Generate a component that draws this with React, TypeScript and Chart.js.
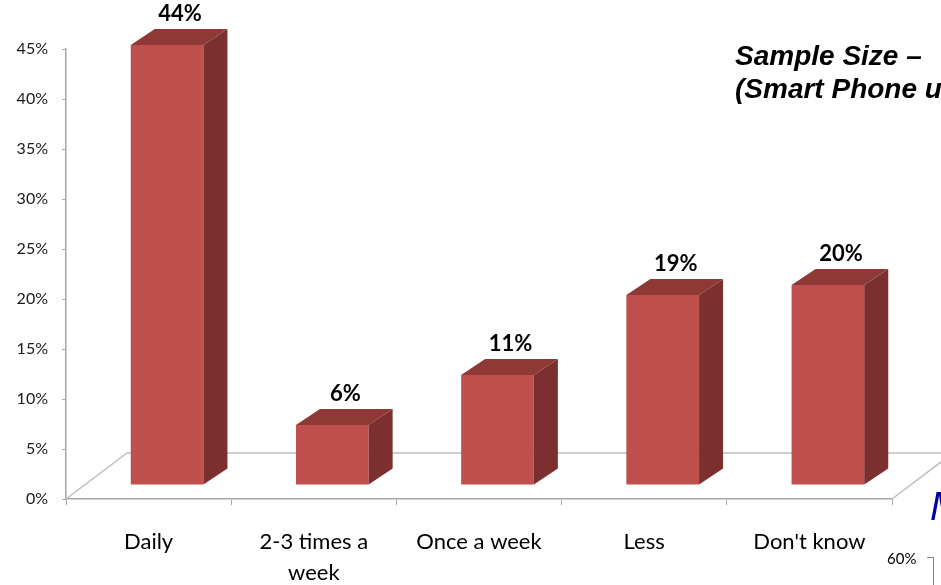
import { useEffect, useRef } from 'react';
import { Chart, registerables } from 'chart.js';

Chart.register(...registerables);

// Survey answers: how often the phone is used
const categories: (string | string[])[] = ['Daily', ['2-3 times a', 'week'], 'Once a week', 'Less', "Don't know"];
const shares = [44, 6, 11, 19, 20];
const yMax = 45;
const yStep = 5;

// 3D look: floor depth, where the bars sit inside it, and the bars' own depth
const FLOOR_DX = 61;
const FLOOR_DY = 46;
const SHIFT_X = 18.5;
const SHIFT_Y = 14;
const BAR_DX = 24;
const BAR_DY = 16;

const FRONT = '#C0504D';
const SIDE = '#7B2F2E';
const TOP = '#8F3936';
const AXIS = '#A6A6A6';
const FLOOR = '#BDBDBD';

const box3d = {
  id: 'box3d',
  beforeDatasetsDraw(chart: any) {
    const { ctx, chartArea } = chart;
    const { left, right, bottom } = chartArea;
    ctx.save();
    ctx.strokeStyle = FLOOR;
    ctx.lineWidth = 1.5;
    ctx.beginPath();
    ctx.moveTo(left, bottom);
    ctx.lineTo(left + FLOOR_DX, bottom - FLOOR_DY);
    ctx.lineTo(chart.width, bottom - FLOOR_DY);
    ctx.moveTo(right, bottom);
    ctx.lineTo(right + FLOOR_DX, bottom - FLOOR_DY);
    ctx.stroke();
    ctx.restore();
  },
  beforeDatasetDraw(chart: any) {
    chart.ctx.save();
    chart.ctx.translate(SHIFT_X, -SHIFT_Y);
  },
  afterDatasetDraw(chart: any, args: any) {
    const ctx = chart.ctx;
    const values = chart.data.datasets[args.index].data as number[];
    args.meta.data.forEach((bar: any, i: number) => {
      const { x, y, base, width } = bar.getProps(['x', 'y', 'base', 'width'], true);
      const l = x - width / 2;
      const r = x + width / 2;
      ctx.fillStyle = SIDE;
      ctx.beginPath();
      ctx.moveTo(r, y);
      ctx.lineTo(r + BAR_DX, y - BAR_DY);
      ctx.lineTo(r + BAR_DX, base - BAR_DY);
      ctx.lineTo(r, base);
      ctx.closePath();
      ctx.fill();
      ctx.fillStyle = TOP;
      ctx.beginPath();
      ctx.moveTo(l, y);
      ctx.lineTo(l + BAR_DX, y - BAR_DY);
      ctx.lineTo(r + BAR_DX, y - BAR_DY);
      ctx.lineTo(r, y);
      ctx.closePath();
      ctx.fill();
      ctx.fillStyle = '#000';
      ctx.font = 'bold 22px Lato';
      ctx.textAlign = 'center';
      ctx.textBaseline = 'middle';
      ctx.fillText(values[i] + '%', x + 13, y - BAR_DY - 15);
    });
    ctx.restore();
  },
};

export default function App() {
  const ref = useRef<HTMLCanvasElement>(null);

  useEffect(() => {
    if (!ref.current) return;
    const chart = new Chart(ref.current, {
      type: 'bar',
      data: {
        labels: categories,
        datasets: [
          {
            data: shares,
            backgroundColor: FRONT,
            borderWidth: 0,
            barPercentage: 0.44,
            categoryPercentage: 1,
            clip: false as any,
          },
        ],
      },
      options: {
        responsive: false,
        animation: false,
        layout: { padding: { top: 49, right: 49, left: 0, bottom: 0 } },
        plugins: { legend: { display: false }, tooltip: { enabled: false } },
        scales: {
          x: {
            grid: { drawOnChartArea: false, tickLength: 6, color: AXIS, offset: true },
            border: { color: AXIS, width: 1.5 },
            ticks: {
              color: '#000',
              padding: 22,
              maxRotation: 0,
              autoSkip: false,
              font: { family: 'Lato', size: 22, lineHeight: 1.4 },
            },
            afterFit(scale: any) {
              scale.height = 86;
            },
          },
          y: {
            min: 0,
            max: yMax,
            grid: { drawOnChartArea: false, tickLength: 4, color: AXIS },
            border: { color: AXIS, width: 1.5 },
            ticks: {
              stepSize: yStep,
              color: '#1a1a1a',
              padding: 14,
              font: { family: 'Lato', size: 16 },
              callback: (v: any) => v + '%',
            },
            afterFit(scale: any) {
              scale.width = 66;
            },
          },
        },
      },
      plugins: [box3d],
    });
    return () => chart.destroy();
  }, []);

  return (
    <div
      style={{
        position: 'absolute',
        left: 0,
        top: 0,
        width: 941,
        height: 585,
        overflow: 'hidden',
        background: '#fff',
      }}
    >
      <canvas ref={ref} width={941} height={585} style={{ position: 'absolute', left: 0, top: 0 }} />
      <div
        style={{
          position: 'absolute',
          left: 735,
          top: 39,
          font: 'italic bold 28px "Liberation Sans", Arial, sans-serif',
          lineHeight: '33px',
          whiteSpace: 'nowrap',
          color: '#000',
        }}
      >
        <div>Sample Size –</div>
        <div>(Smart Phone u</div>
      </div>
      <div
        style={{
          position: 'absolute',
          left: 930,
          top: 486,
          font: 'italic 40px "Liberation Sans", Arial, sans-serif',
          lineHeight: '40px',
          whiteSpace: 'nowrap',
          color: '#0000A0',
        }}
      >
        M
      </div>
      <div
        style={{
          position: 'absolute',
          left: 887,
          top: 548,
          font: '15px Lato, sans-serif',
          lineHeight: '20px',
          color: '#000',
        }}
      >
        60%
      </div>
      <div
        style={{
          position: 'absolute',
          left: 927,
          top: 557,
          width: 6,
          height: 40,
          borderTop: '1px solid #888',
          borderRight: '1px solid #888',
        }}
      />
    </div>
  );
}
